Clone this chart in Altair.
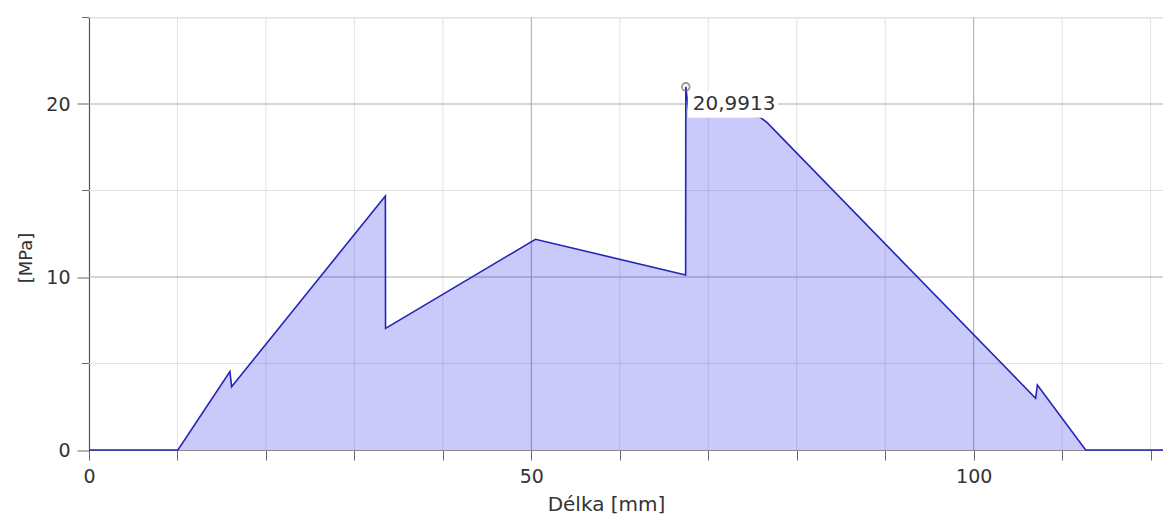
import altair as alt
import pandas as pd

# Stress profile
x_mm = [0.0, 10.05, 15.93, 16.12, 33.50, 33.52, 50.47, 67.44, 67.46, 67.8, 75.8, 76.6, 107.0, 107.2, 112.66, 121.4]
y_mpa = [0.0, 0.0, 4.53, 3.66, 14.68, 7.03, 12.18, 10.12, 20.99, 19.6, 19.25, 18.95, 2.99, 3.76, 0.0, 0.0]

peak_x = [67.46]
peak_y = [20.99]
peak_label = ["20,9913"]

x_minor_grid = [10, 20, 30, 40, 60, 70, 80, 90, 110, 120]
x_major_grid = [50, 100]
y_minor_grid = [5, 15, 25]
y_major_grid = [10, 20]
x_tick_values = list(range(0, 121, 10))
y_tick_values = [0, 10, 20]

X_DOMAIN = [0, 121.4]
Y_DOMAIN = [0, 25]

df = pd.DataFrame({"x": x_mm, "y": y_mpa, "i": list(range(len(x_mm)))})
peak = pd.DataFrame({"x": peak_x, "y": peak_y, "t": peak_label})

xs = alt.Scale(domain=X_DOMAIN, nice=False, zero=False)
ys = alt.Scale(domain=Y_DOMAIN, nice=False)

FONT = "DejaVu Sans"

x_axis = alt.Axis(
    values=x_tick_values,
    labelExpr="datum.value % 50 == 0 ? datum.label : ''",
    tickSize=10, tickColor="#666666", domainColor="#8a8a8a", domainWidth=1.2,
    grid=False, labelFont=FONT, labelFontSize=19, labelColor="#333333",
    labelPadding=7, title="Délka [mm]", titleFont=FONT, titleFontSize=20,
    titleFontWeight="normal", titleColor="#333333", titleX=517, titleY=60,
    titleBaseline="alphabetic", titleAnchor="middle", labelFlush=False,
)
y_axis = alt.Axis(
    values=y_tick_values, tickSize=12, tickColor="#666666", domainColor="#555555",
    domainWidth=1.2, grid=False, labelFont=FONT, labelFontSize=19,
    labelColor="#333333", labelPadding=7, title="[MPa]", titleFont=FONT,
    titleFontSize=18, titleFontWeight="normal", titleColor="#333333",
    titleX=-58, titleY=240, titleBaseline="alphabetic", titleAngle=270,
    titleAlign="center",
)

xg_minor = alt.Chart(pd.DataFrame({"v": x_minor_grid})).mark_rule(color="#e2e2e2", strokeWidth=1).encode(
    x=alt.X("v:Q", scale=xs, axis=x_axis))
xg_major = alt.Chart(pd.DataFrame({"v": x_major_grid})).mark_rule(color="#a8a8a8", strokeWidth=1).encode(
    x=alt.X("v:Q", scale=xs))
yg_minor = alt.Chart(pd.DataFrame({"v": y_minor_grid})).mark_rule(color="#e2e2e2", strokeWidth=1).encode(
    y=alt.Y("v:Q", scale=ys, axis=y_axis))
yg_major = alt.Chart(pd.DataFrame({"v": y_major_grid})).mark_rule(color="#ababab", strokeWidth=1).encode(
    y=alt.Y("v:Q", scale=ys))
y_minor_ticks = alt.Chart(pd.DataFrame({"v": y_minor_grid})).mark_rule(color="#666666", strokeWidth=1).encode(
    y=alt.Y("v:Q", scale=ys), x=alt.value(-7), x2=alt.value(0))

area = alt.Chart(df).mark_area(color="#0000e6", fillOpacity=0.21, stroke=None).encode(
    x=alt.X("x:Q", scale=xs), y=alt.Y("y:Q", scale=ys, stack=None))
line = alt.Chart(df).mark_line(color="#2424b8", strokeWidth=1.6).encode(
    x=alt.X("x:Q", scale=xs), y=alt.Y("y:Q", scale=ys), order="i:Q")

box = alt.Chart(peak).mark_rect(color="white", width=90, height=26, xOffset=47, yOffset=18).encode(
    x=alt.X("x:Q", scale=xs), y=alt.Y("y:Q", scale=ys))
label = alt.Chart(peak).mark_text(font=FONT, fontSize=20, color="#333333", align="left",
                                  baseline="alphabetic", dx=7, dy=23).encode(
    x=alt.X("x:Q", scale=xs), y=alt.Y("y:Q", scale=ys), text="t:N")
marker = alt.Chart(peak).mark_point(shape="circle", filled=False, color="#6e6e6e", size=60,
                                    strokeWidth=1.8).encode(
    x=alt.X("x:Q", scale=xs), y=alt.Y("y:Q", scale=ys))

chart = alt.layer(
    xg_minor, yg_minor, xg_major, yg_major, y_minor_ticks, area, line, box, label, marker
).properties(
    width=1074, height=432.5,
    padding={"left": 81, "top": 9.5, "right": 0, "bottom": 64},
    autosize=alt.AutoSizeParams(type="none"),
).configure_view(stroke=None).configure(background="white")

chart.save("out.html", embed_options={"renderer": "svg", "actions": False})
